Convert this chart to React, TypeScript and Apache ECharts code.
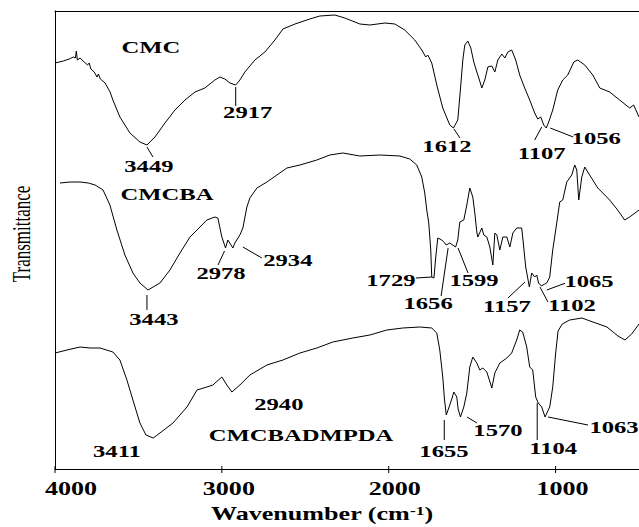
import React, { useEffect, useRef } from "react";
import * as echarts from "echarts";

const W = 639;
const H = 527;

// FTIR traces: [wavenumber (cm-1), transmittance (a.u., traces stacked with offsets)]
const cmc: number[][] = [
  [4000, 406], [3950, 408], [3915, 410], [3890, 412], [3878, 411], [3872, 418], [3866, 409],
  [3850, 411], [3825, 407], [3805, 404], [3795, 406], [3785, 400], [3765, 397], [3748, 392],
  [3740, 395], [3728, 390], [3700, 386], [3670, 377], [3653, 369], [3611, 352], [3551, 336],
  [3491, 327], [3449, 324], [3401, 332], [3341, 346], [3281, 359], [3221, 369], [3161, 377],
  [3102, 381], [3042, 389], [3012, 392], [2982, 390], [2952, 386], [2917, 384], [2892, 389],
  [2862, 397], [2802, 409], [2742, 417], [2682, 429], [2634, 440], [2562, 445], [2473, 450],
  [2413, 453], [2323, 454], [2263, 451], [2173, 445], [2113, 444], [2023, 446], [1963, 445],
  [1904, 439], [1844, 429], [1802, 419], [1778, 412], [1766, 414], [1742, 406], [1712, 384],
  [1676, 361], [1634, 344], [1612, 341], [1586, 349], [1568, 384], [1556, 409], [1544, 424],
  [1526, 428], [1508, 421], [1490, 407], [1472, 397], [1460, 391], [1442, 381], [1424, 389],
  [1406, 402], [1382, 403], [1364, 397], [1346, 409], [1322, 415], [1304, 411], [1286, 417],
  [1263, 419], [1239, 409], [1215, 394], [1185, 381], [1155, 369], [1125, 356], [1107, 350],
  [1089, 352], [1071, 344], [1056, 341], [1041, 347], [1017, 359], [987, 379], [957, 389],
  [927, 394], [891, 407], [867, 409], [825, 404], [777, 394], [735, 381], [676, 377],
  [616, 369], [556, 361], [532, 364], [500, 352],
];

const cmcba: number[][] = [
  [3970, 286], [3910, 287], [3850, 287], [3800, 286], [3760, 284], [3712, 279], [3671, 264],
  [3629, 239], [3581, 214], [3533, 196], [3491, 186], [3443, 179], [3371, 186], [3311, 199],
  [3251, 216], [3191, 232], [3131, 242], [3090, 249], [3042, 252], [3024, 251], [3000, 232],
  [2978, 221], [2964, 229], [2934, 221], [2922, 226], [2892, 234], [2874, 241], [2850, 262],
  [2832, 271], [2790, 281], [2730, 287], [2670, 294], [2610, 301], [2532, 304], [2431, 309],
  [2353, 314], [2275, 316], [2173, 313], [2053, 314], [1933, 313], [1874, 310], [1832, 304],
  [1802, 292], [1784, 276], [1772, 259], [1760, 246], [1748, 219], [1742, 192], [1729, 191],
  [1718, 212], [1706, 231], [1682, 229], [1664, 226], [1656, 224], [1634, 226], [1599, 222],
  [1586, 229], [1574, 247], [1550, 249], [1532, 264], [1514, 281], [1496, 272], [1484, 256],
  [1472, 237], [1466, 232], [1442, 241], [1430, 234], [1412, 232], [1394, 222], [1376, 204],
  [1364, 236], [1352, 234], [1334, 219], [1316, 232], [1292, 232], [1274, 222], [1256, 236],
  [1233, 241], [1203, 241], [1197, 232], [1179, 202], [1157, 182], [1143, 196], [1125, 192],
  [1113, 194], [1102, 186], [1085, 183], [1065, 185], [1053, 186], [1035, 192], [1017, 219],
  [993, 246], [975, 267], [957, 269], [933, 287], [903, 294], [885, 304], [873, 299],
  [861, 269], [843, 292], [825, 302], [807, 297], [777, 289], [747, 281], [717, 276],
  [676, 269], [628, 259], [586, 249], [556, 252], [500, 259],
];

const cmcbadmpda: number[][] = [
  [4000, 116], [3928, 119], [3850, 122], [3790, 121], [3730, 121], [3653, 117], [3611, 109],
  [3569, 89], [3533, 69], [3491, 46], [3455, 34], [3411, 31], [3371, 36], [3293, 46],
  [3209, 62], [3149, 79], [3090, 82], [3054, 84], [3000, 92], [2970, 84], [2940, 77],
  [2892, 84], [2832, 94], [2730, 104], [2634, 109], [2532, 116], [2431, 121], [2335, 127],
  [2215, 131], [2113, 134], [2011, 139], [1916, 141], [1814, 142], [1742, 141], [1712, 136],
  [1694, 119], [1676, 92], [1666, 70], [1655, 54], [1638, 62], [1622, 70], [1610, 77],
  [1592, 72], [1584, 60], [1570, 52], [1550, 62], [1532, 76], [1514, 102], [1496, 112],
  [1472, 106], [1454, 99], [1436, 101], [1412, 97], [1382, 81], [1364, 96], [1334, 106],
  [1292, 111], [1263, 116], [1233, 129], [1215, 139], [1197, 137], [1173, 122], [1155, 102],
  [1137, 99], [1119, 72], [1104, 66], [1083, 62], [1063, 52], [1035, 62], [1017, 82],
  [1000, 115], [985, 138], [960, 145], [915, 149], [842, 151], [776, 147], [692, 142],
  [626, 133], [584, 129], [544, 135], [500, 145],
];

const tickValues = [4000, 3000, 2000, 1000];

// Assigned absorption bands (cm-1) for each trace
const cmcPeaks = [3449, 2917, 1612, 1107, 1056];
const cmcbaPeaks = [3443, 2978, 2934, 1729, 1656, 1599, 1157, 1102, 1065];
const cmcbadmpdaPeaks = [3411, 2940, 1655, 1570, 1104, 1063];

const seriesNames = ["CMC", "CMCBA", "CMCBADMPDA"];

// Label placement, in pixels relative to the band's point on its trace:
// t = centre of the text, l = optional leader line (x1, y1, x2, y2)
type Place = { t: number[]; l?: number[] };
const cmcPlace: Place[] = [
  { t: [2, 21.5], l: [0, 2, 6, 12] },
  { t: [12, 27.5], l: [0, 2, 0, 21] },
  { t: [-6.5, 18.5], l: [0.5, 1, 6.5, 10] },
  { t: [4, 34.5], l: [4, 8, -3, 21] },
  { t: [50, 10.5], l: [4, 0, 27, 9] },
];
const cmcbaPlace: Place[] = [
  { t: [6, 29], l: [-1, 5, -1, 20] },
  { t: [-4.5, 25.5], l: [-1, 3, -7.5, 17] },
  { t: [55, 12.5], l: [10, -1, 29, 10] },
  { t: [-43, 2], l: [-18, 0, -2, -1] },
  { t: [-18, 58.5], l: [2, 3, -5, 51] },
  { t: [18.4, 33], l: [2.4, 1, 12.4, 26] },
  { t: [-22.4, 19.5], l: [-4.4, -5, -21.4, 11] },
  { t: [33.4, 22], l: [1.4, 4, 9.4, 19] },
  { t: [44.3, -2.5], l: [2, 6, 20.3, -0.7] },
];
const cmcbadmpdaPlace: Place[] = [
  { t: [-36.3, 13.5] },
  { t: [47, 12] },
  { t: [-2.3, 36.5], l: [-2, 5, -2, 25] },
  { t: [37.5, 13], l: [6.5, 0, 16.5, 6] },
  { t: [15, 45.5], l: [-1, 0, -1, 37] },
  { t: [69, 10.5], l: [3, 0, 43, 8] },
];
const tickLabelShift = [16, 7, 6, 7];

const FONT = '"Liberation Serif", "Times New Roman", serif';
const STRETCH = 1.45;

function valueAt(data: number[][], wn: number): number {
  const p = data.find((d) => d[0] === wn);
  return p ? p[1] : 0;
}

export default function App() {
  const ref = useRef<HTMLDivElement>(null);

  useEffect(() => {
    if (!ref.current) return;
    const chart = echarts.init(ref.current, null, { renderer: "svg" });

    const traces = [
      { data: cmc, peaks: cmcPeaks, place: cmcPlace },
      { data: cmcba, peaks: cmcbaPeaks, place: cmcbaPlace },
      { data: cmcbadmpda, peaks: cmcbadmpdaPeaks, place: cmcbadmpdaPlace },
    ];
    const bandPoints: number[][] = [];
    const placements: Place[] = [];
    traces.forEach((tr) =>
      tr.peaks.forEach((wn, k) => {
        bandPoints.push([wn, valueAt(tr.data, wn), placements.length]);
        placements.push(tr.place[k]);
      })
    );

    const trace = (name: string, data: number[][]) => ({
      type: "line",
      name,
      data,
      symbol: "none",
      showSymbol: false,
      silent: true,
      lineStyle: { color: "#000", width: 1 },
      z: 2,
    });

    const plainAxis = {
      type: "value",
      min: 500,
      max: 4000,
      inverse: true,
      axisLine: { show: true, lineStyle: { color: "#000", width: 1 } },
      axisTick: { show: false },
      axisLabel: { show: false },
      splitLine: { show: false },
    };

    const textStyle = (text: string, size: number, weight: string) => ({
      text,
      fontFamily: FONT,
      fontSize: size,
      fontWeight: weight,
      fill: "#000",
      align: "center",
      verticalAlign: "middle",
    });

    chart.setOption({
      animation: false,
      backgroundColor: "#fff",
      grid: { left: 55, right: 0, top: 11, bottom: 58 },
      xAxis: [
        { ...plainAxis, position: "bottom" },
        { ...plainAxis, position: "top" },
      ],
      yAxis: {
        type: "value",
        min: 0,
        max: 458,
        axisLine: { show: true, lineStyle: { color: "#000", width: 1 } },
        axisTick: { show: false },
        axisLabel: { show: false },
        splitLine: { show: false },
      },
      series: [
        trace(seriesNames[0], cmc),
        trace(seriesNames[1], cmcba),
        trace(seriesNames[2], cmcbadmpda),
        {
          type: "custom",
          name: "bands",
          data: bandPoints,
          encode: { x: 0, y: 1 },
          clip: false,
          silent: true,
          z: 5,
          renderItem: (_params: any, api: any) => {
            const p = api.coord([api.value(0), api.value(1)]);
            const pl = placements[api.value(2)];
            const children: any[] = [];
            if (pl.l) {
              children.push({
                type: "line",
                shape: {
                  x1: p[0] + pl.l[0],
                  y1: p[1] + pl.l[1],
                  x2: p[0] + pl.l[2],
                  y2: p[1] + pl.l[3],
                },
                style: { stroke: "#000", lineWidth: 1 },
              });
            }
            children.push({
              type: "text",
              x: p[0] + pl.t[0],
              y: p[1] + pl.t[1],
              scaleX: STRETCH,
              style: textStyle(String(api.value(0)), 17, "bold"),
            });
            return { type: "group", children };
          },
        },
        {
          type: "custom",
          name: "ticks",
          data: tickValues.map((v, i) => [v, 0, i]),
          encode: { x: 0, y: 1 },
          clip: false,
          silent: true,
          z: 5,
          renderItem: (_params: any, api: any) => {
            const p = api.coord([api.value(0), 0]);
            const i = api.value(2);
            return {
              type: "group",
              children: [
                {
                  type: "line",
                  shape: { x1: p[0], y1: p[1] - 3, x2: p[0], y2: p[1] + 4 },
                  style: { stroke: "#000", lineWidth: 1 },
                },
                {
                  type: "text",
                  x: p[0] + tickLabelShift[i],
                  y: p[1] + 20,
                  scaleX: STRETCH,
                  style: textStyle(String(api.value(0)), 18, "bold"),
                },
              ],
            };
          },
        },
      ],
      graphic: [
        { type: "text", x: 151, y: 47, scaleX: STRETCH, style: textStyle(seriesNames[0], 17, "bold") },
        { type: "text", x: 167, y: 194.5, scaleX: STRETCH, style: textStyle(seriesNames[1], 17, "bold") },
        { type: "text", x: 301, y: 435, scaleX: STRETCH, style: textStyle(seriesNames[2], 17, "bold") },
        {
          type: "text",
          x: 322,
          y: 514,
          scaleX: STRETCH,
          style: {
            text: "{a|Wavenumber (cm}{b|-1}{a|)}",
            fill: "#000",
            align: "center",
            verticalAlign: "middle",
            rich: {
              a: { fontFamily: FONT, fontSize: 18, fontWeight: "bold", fill: "#000" },
              b: { fontFamily: FONT, fontSize: 12, fontWeight: "bold", fill: "#000", verticalAlign: "top" },
            },
          },
        },
        {
          type: "text",
          x: 22,
          y: 234,
          rotation: Math.PI / 2,
          scaleY: 1.45,
          style: textStyle("Transmittance", 17, "normal"),
        },
      ],
    });

    return () => chart.dispose();
  }, []);

  return (
    <div
      ref={ref}
      style={{ position: "absolute", left: 0, top: 0, width: W, height: H }}
    />
  );
}
